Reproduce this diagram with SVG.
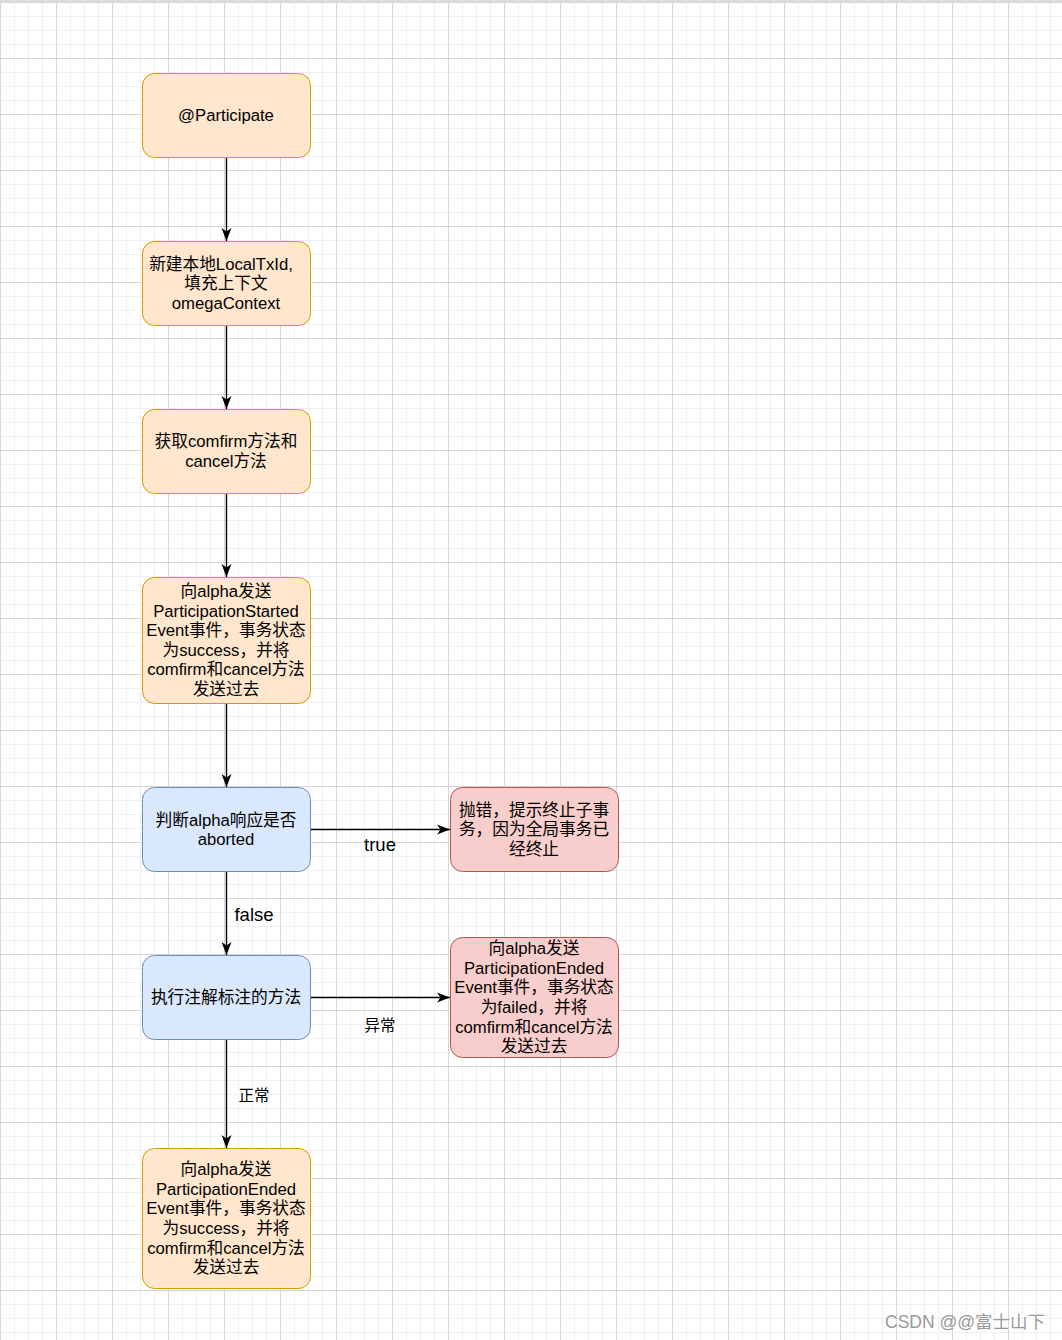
<svg xmlns="http://www.w3.org/2000/svg" width="1062" height="1340" viewBox="0 0 1062 1340">
<defs>
<pattern id="grid" patternUnits="userSpaceOnUse" x="0" y="2" width="56" height="56">
<path d="M14.5 0V56M28.5 0V56M42.5 0V56M0 14.5H56M0 28.5H56M0 42.5H56" stroke="#efefef" stroke-width="1" fill="none"/>
<path d="M0.5 0V56M0 0.5H56" stroke="#d6d6d6" stroke-width="1" fill="none"/>
</pattern>
<marker id="arr" markerUnits="userSpaceOnUse" markerWidth="14" markerHeight="14" viewBox="0 0 14 14" refX="13" refY="7" orient="auto">
<path d="M0,2 L13,7 L0,12 L3.5,7 Z" fill="#000"/>
</marker>
<style>
.t{font-family:"Liberation Sans","Noto Sans CJK SC",sans-serif;font-size:16.7px;fill:#000;text-anchor:middle}
.o{fill:#ffe6cc;stroke:#d79b00;stroke-width:1}
.b{fill:#dae8fc;stroke:#6c8ebf;stroke-width:1}
.r{fill:#f8cecc;stroke:#b85450;stroke-width:1}
.e{stroke:#000;stroke-width:1.4;fill:none;marker-end:url(#arr)}
</style>
</defs>
<rect width="1062" height="1340" fill="#fff"/>
<rect width="1062" height="1340" fill="url(#grid)"/>
<rect x="0" y="0" width="1062" height="2" fill="#dcdcdc"/>
<g id="connectors">
<path class="e" d="M226.5 157.5V241"/>
<path class="e" d="M226.5 325.5V409"/>
<path class="e" d="M226.5 493.5V577"/>
<path class="e" d="M226.5 703.5V787"/>
<path class="e" d="M310.5 829.5H450"/>
<path class="e" d="M226.5 871.5V955"/>
<path class="e" d="M310.5 997.5H450"/>
<path class="e" d="M226.5 1039.5V1148"/>
<text class="t" x="380" y="851" style="font-size:18.5px">true</text>
<text class="t" x="254" y="921" style="font-size:18.5px">false</text>
<text class="t" x="380" y="1031" style="font-size:15.5px">异常</text>
<text class="t" x="254" y="1101" style="font-size:15.5px">正常</text>
</g>
<g id="n1"><rect class="o" x="142.5" y="73.5" width="168" height="84" rx="12"/>
<text class="t" x="226" y="121">@Participate</text></g>
<g id="n2"><rect class="o" x="142.5" y="241.5" width="168" height="84" rx="12"/>
<text class="t"><tspan x="221" y="270">新建本地LocalTxId,</tspan><tspan x="226" y="289">填充上下文</tspan><tspan x="226" y="309">omegaContext</tspan></text></g>
<g id="n3"><rect class="o" x="142.5" y="409.5" width="168" height="84" rx="12"/>
<text class="t"><tspan x="226" y="447">获取comfirm方法和</tspan><tspan x="226" y="467">cancel方法</tspan></text></g>
<g id="n4"><rect class="o" x="142.5" y="577.5" width="168" height="126" rx="12"/>
<text class="t"><tspan x="226" y="597">向alpha发送</tspan><tspan x="226" y="617">ParticipationStarted</tspan><tspan x="226" y="636">Event事件，事务状态</tspan><tspan x="226" y="656">为success，并将</tspan><tspan x="226" y="675">comfirm和cancel方法</tspan><tspan x="226" y="695">发送过去</tspan></text></g>
<g id="n5"><rect class="b" x="142.5" y="787.5" width="168" height="84" rx="12"/>
<text class="t"><tspan x="226" y="826">判断alpha响应是否</tspan><tspan x="226" y="845">aborted</tspan></text></g>
<g id="n6"><rect class="r" x="450.5" y="787.5" width="168" height="84" rx="12"/>
<text class="t"><tspan x="534" y="816">抛错，提示终止子事</tspan><tspan x="534" y="835">务，因为全局事务已</tspan><tspan x="534" y="855">经终止</tspan></text></g>
<g id="n7"><rect class="b" x="142.5" y="955.5" width="168" height="84" rx="12"/>
<text class="t" x="226" y="1003">执行注解标注的方法</text></g>
<g id="n8"><rect class="r" x="450.5" y="937.5" width="168" height="120" rx="12"/>
<text class="t"><tspan x="534" y="954">向alpha发送</tspan><tspan x="534" y="974">ParticipationEnded</tspan><tspan x="534" y="993">Event事件，事务状态</tspan><tspan x="534" y="1013">为failed，并将</tspan><tspan x="534" y="1033">comfirm和cancel方法</tspan><tspan x="534" y="1052">发送过去</tspan></text></g>
<g id="n9"><rect class="o" x="142.5" y="1148.5" width="168" height="140" rx="12"/>
<text class="t"><tspan x="226" y="1175">向alpha发送</tspan><tspan x="226" y="1195">ParticipationEnded</tspan><tspan x="226" y="1214">Event事件，事务状态</tspan><tspan x="226" y="1234">为success，并将</tspan><tspan x="226" y="1254">comfirm和cancel方法</tspan><tspan x="226" y="1273">发送过去</tspan></text></g>
<text x="965" y="1328" style="font-family:'Liberation Sans','Noto Sans CJK SC',sans-serif;font-size:17.5px;fill:#9a9a9a;text-anchor:middle">CSDN @@富士山下</text>
</svg>
